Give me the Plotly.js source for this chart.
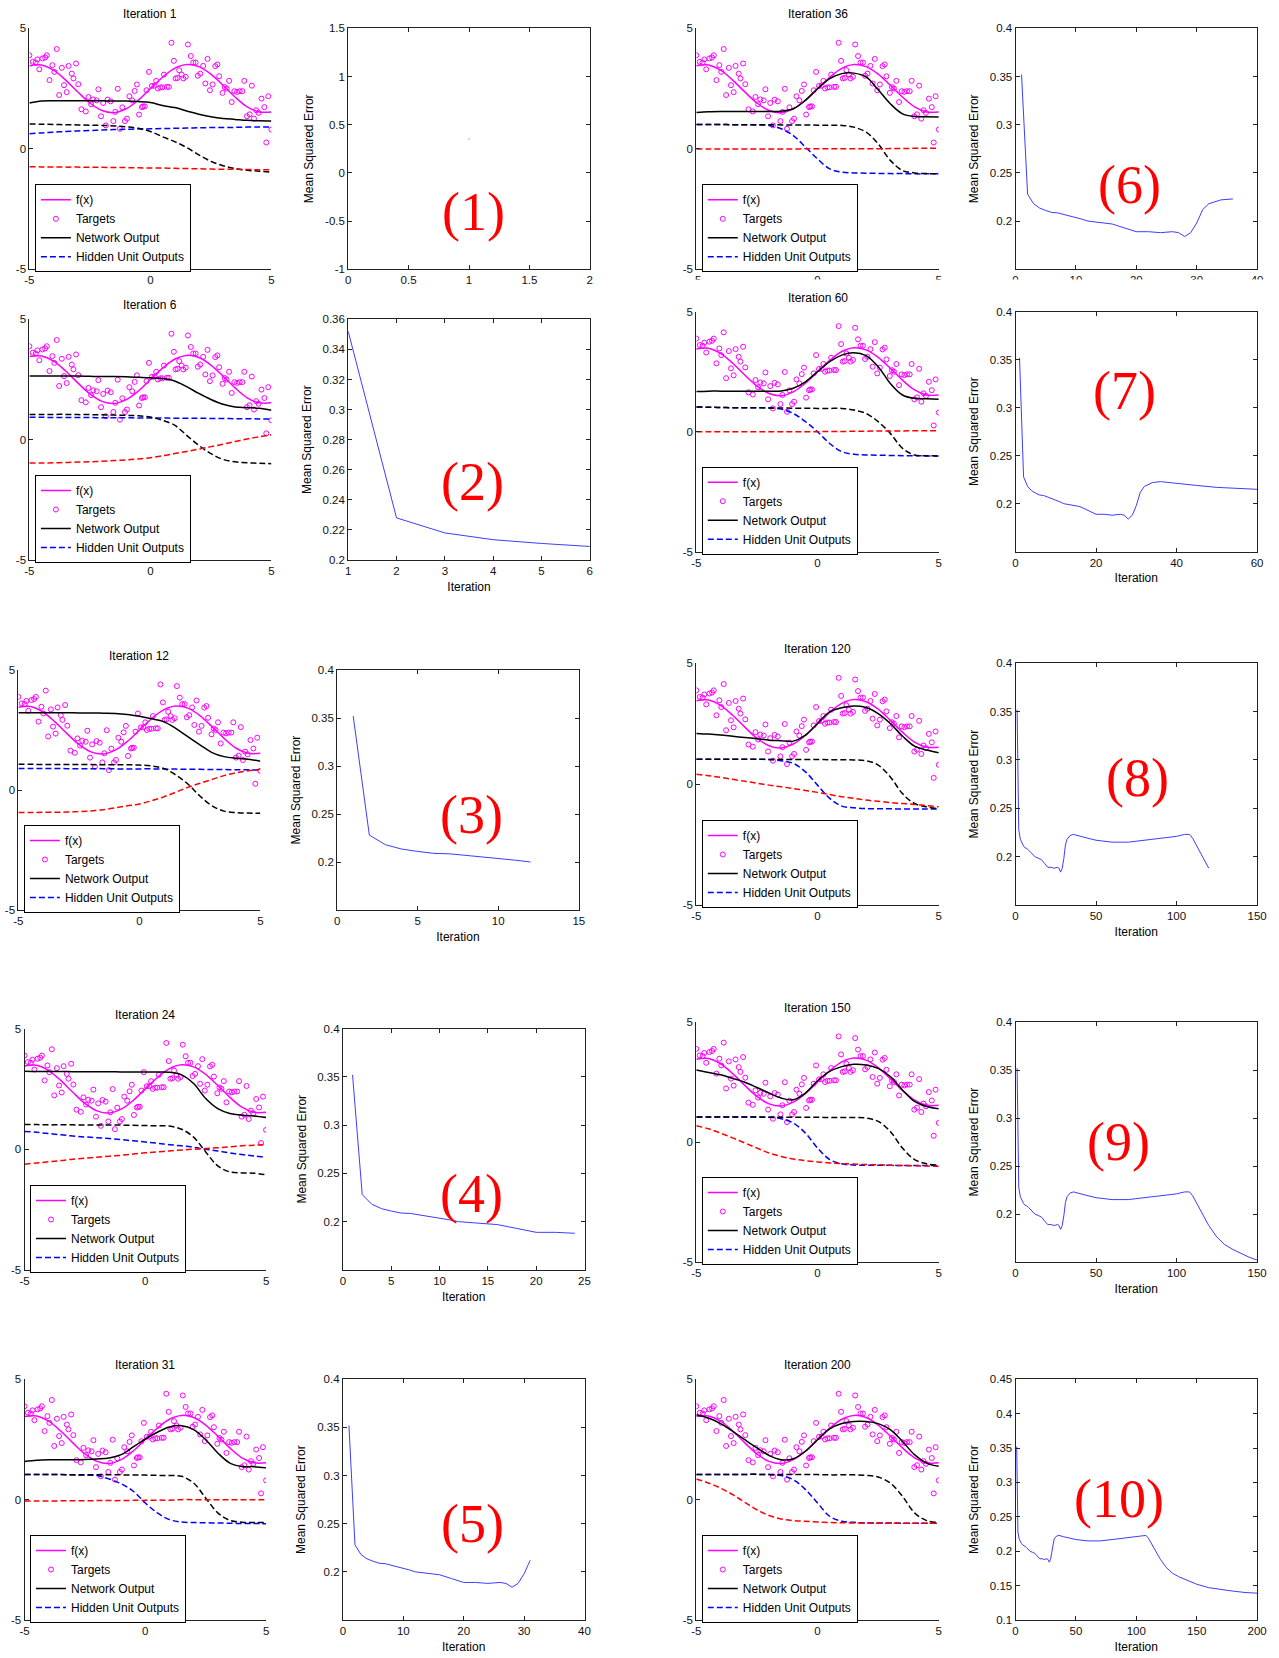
<!DOCTYPE html>
<html>
<head>
<meta charset="utf-8">
<script src="https://cdn.plot.ly/plotly-3.0.1.min.js"></script>
<style>html,body{margin:0;padding:0;background:#fff}#chart{width:1279px;height:1658px}</style>
</head>
<body>
<div id="chart"></div>
<script>
// ---------------- DATA ----------------
const xGrid = [-5,-4.5,-4,-3.5,-3,-2.5,-2,-1.5,-1,-0.5,0,0.5,1,1.5,2,2.5,3,3.5,4,4.5,5];
const fValues = [3.45,3.48,3.26,2.85,2.36,1.9,1.59,1.5,1.66,2.02,2.5,2.97,3.34,3.5,3.41,3.1,2.64,2.15,1.74,1.53,1.53];

const targetX = [-5.0,-4.86,-4.74,-4.67,-4.59,-4.46,-4.35,-4.28,-4.17,-4.05,-3.97,-3.87,-3.77,-3.66,-3.57,-3.46,-3.38,-3.25,-3.18,-3.07,-2.98,-2.85,-2.67,-2.56,-2.45,-2.36,-2.22,-2.15,-2.04,-1.95,-1.84,-1.77,-1.64,-1.53,-1.45,-1.35,-1.26,-1.16,-1.05,-0.97,-0.87,-0.75,-0.65,-0.56,-0.47,-0.35,-0.3,-0.23,-0.16,-0.06,0.06,0.17,0.24,0.31,0.41,0.5,0.56,0.68,0.76,0.87,0.97,1.04,1.12,1.19,1.29,1.36,1.46,1.55,1.67,1.77,1.87,1.96,2.06,2.18,2.27,2.36,2.46,2.57,2.68,2.77,2.84,2.98,3.07,3.15,3.25,3.36,3.47,3.58,3.69,3.8,3.88,3.99,4.1,4.19,4.28,4.37,4.47,4.59,4.71,4.79,4.87,5.0];
const targetY = [3.88,3.61,3.58,3.71,3.3,3.75,3.79,3.88,2.85,3.47,3.19,4.14,2.23,3.36,2.64,2.35,3.44,3.12,2.92,3.54,2.68,1.64,1.55,2.15,1.85,2.05,2.01,2.47,1.35,1.9,0.97,2.04,1.97,1.15,1.53,2.49,0.83,1.72,1.15,1.25,2.18,2.01,2.4,2.67,1.42,1.73,1.76,1.76,2.43,3.19,2.61,2.62,2.82,2.5,2.55,2.55,3.08,2.57,2.57,4.4,3.65,2.92,2.94,3.26,3.08,2.92,2.99,4.33,3.85,3.58,3.58,3.03,3.12,3.44,2.71,3.73,2.43,2.67,3.43,3.5,3.01,2.32,2.56,2.5,2.82,1.94,2.39,2.36,2.39,2.39,2.82,1.35,1.43,2.62,1.25,1.6,1.49,2.08,1.73,0.26,2.18,0.8];

const iterationsShown = [1, 6, 12, 24, 31, 36, 60, 120, 150, 200];
const panelLabels = ['(1)','(2)','(3)','(4)','(5)','(6)','(7)','(8)','(9)','(10)'];

// Network output and hidden unit outputs (black, blue, red) for each iteration, on xGrid
const net_it1   = [1.9,1.98,1.99,1.99,1.99,1.99,1.99,1.98,1.98,1.96,1.92,1.8,1.71,1.57,1.43,1.33,1.26,1.22,1.18,1.16,1.15];
const black_it1 = [1.03,1.02,1.01,1.0,0.99,0.98,0.97,0.95,0.91,0.85,0.72,0.5,0.3,0.05,-0.25,-0.52,-0.7,-0.82,-0.89,-0.93,-0.97];
const blue_it1  = [0.62,0.66,0.69,0.72,0.74,0.76,0.78,0.8,0.81,0.82,0.83,0.84,0.85,0.86,0.87,0.88,0.88,0.89,0.9,0.9,0.91];
const red_it1   = [-0.74,-0.75,-0.75,-0.76,-0.76,-0.77,-0.77,-0.78,-0.78,-0.79,-0.8,-0.8,-0.81,-0.82,-0.83,-0.84,-0.85,-0.85,-0.86,-0.87,-0.87];

const net_it6   = [2.64,2.64,2.64,2.64,2.64,2.63,2.62,2.62,2.61,2.59,2.57,2.54,2.44,2.2,1.92,1.67,1.47,1.36,1.33,1.3,1.22];
const black_it6 = [1.05,1.05,1.05,1.05,1.04,1.04,1.03,1.02,1.01,0.99,0.94,0.8,0.6,0.18,-0.24,-0.58,-0.82,-0.92,-0.96,-0.98,-1.0];
const blue_it6  = [0.93,0.93,0.92,0.92,0.92,0.92,0.91,0.91,0.91,0.9,0.9,0.9,0.89,0.89,0.89,0.88,0.88,0.87,0.87,0.86,0.86];
const red_it6   = [-0.97,-0.97,-0.96,-0.95,-0.93,-0.92,-0.9,-0.87,-0.84,-0.8,-0.75,-0.67,-0.58,-0.49,-0.39,-0.29,-0.19,-0.08,0.03,0.12,0.2];

const net_it12   = [3.22,3.22,3.22,3.22,3.22,3.21,3.21,3.2,3.19,3.15,3.07,2.97,2.85,2.57,2.22,1.88,1.56,1.39,1.32,1.28,1.2];
const black_it12 = [1.07,1.07,1.06,1.06,1.06,1.06,1.06,1.05,1.05,1.05,1.04,1.0,0.9,0.63,0.25,-0.25,-0.66,-0.88,-0.94,-0.96,-0.97];
const blue_it12  = [0.9,0.9,0.9,0.9,0.89,0.89,0.89,0.89,0.88,0.88,0.88,0.88,0.87,0.87,0.86,0.86,0.85,0.85,0.84,0.84,0.83];
const red_it12   = [-0.94,-0.94,-0.93,-0.93,-0.92,-0.9,-0.87,-0.82,-0.74,-0.66,-0.58,-0.45,-0.29,-0.09,0.11,0.28,0.44,0.6,0.72,0.8,0.86];

const net_it24   = [3.23,3.22,3.22,3.22,3.21,3.21,3.21,3.21,3.2,3.2,3.2,3.2,3.19,3.08,2.72,2.1,1.68,1.48,1.41,1.38,1.31];
const black_it24 = [1.02,1.02,1.01,1.01,1.01,1.0,1.0,1.0,1.0,0.99,0.98,0.97,0.96,0.83,0.5,-0.11,-0.69,-0.94,-0.98,-0.99,-1.06];
const blue_it24  = [0.74,0.7,0.65,0.6,0.55,0.51,0.48,0.44,0.4,0.35,0.3,0.25,0.19,0.14,0.08,0.0,-0.07,-0.15,-0.22,-0.28,-0.34];
const red_it24   = [-0.62,-0.57,-0.52,-0.47,-0.41,-0.37,-0.33,-0.29,-0.25,-0.2,-0.15,-0.11,-0.07,-0.03,0.0,0.03,0.06,0.1,0.14,0.17,0.19];

const net_it31   = [1.59,1.64,1.66,1.66,1.66,1.67,1.69,1.73,1.87,2.19,2.52,2.8,3.02,3.07,2.91,2.49,1.94,1.52,1.38,1.37,1.32];
const black_it31 = [1.04,1.04,1.04,1.04,1.03,1.03,1.03,1.03,1.03,1.02,1.02,1.01,1.0,0.97,0.69,0.07,-0.55,-0.86,-0.94,-0.95,-0.95];
const blue_it31  = [1.04,1.04,1.04,1.04,1.03,1.02,1.0,0.86,0.66,0.35,-0.14,-0.55,-0.83,-0.93,-0.95,-0.96,-0.97,-0.98,-0.99,-0.99,-1.0];
const red_it31   = [-0.06,-0.06,-0.06,-0.05,-0.05,-0.05,-0.04,-0.04,-0.04,-0.03,-0.03,-0.02,-0.02,0.0,0.0,0.0,0.0,0.0,0.0,0.0,0.0];

const net_it36   = [1.51,1.54,1.55,1.55,1.55,1.55,1.55,1.56,1.66,2.01,2.49,2.91,3.12,3.14,2.98,2.45,1.87,1.45,1.34,1.33,1.32];
const black_it36 = [1.01,1.01,1.01,1.0,1.0,1.0,1.0,0.99,0.99,0.99,0.98,0.98,0.97,0.9,0.69,0.21,-0.48,-0.9,-1.0,-1.03,-1.04];
const blue_it36  = [1.01,1.01,1.01,1.0,1.0,0.99,0.97,0.83,0.55,0.07,-0.42,-0.83,-0.97,-1.0,-1.01,-1.02,-1.03,-1.03,-1.04,-1.04,-1.04];
const red_it36   = [-0.01,-0.01,-0.01,-0.01,-0.01,-0.01,-0.01,-0.01,-0.01,0.0,0.0,0.0,0.0,0.0,0.0,0.0,0.01,0.01,0.02,0.02,0.03];

const net_it60   = [1.67,1.69,1.69,1.69,1.69,1.69,1.69,1.7,1.81,2.08,2.5,2.92,3.19,3.29,3.17,2.71,2.01,1.53,1.39,1.37,1.35];
const black_it60 = [1.03,1.02,1.01,1.0,1.0,1.0,0.99,0.99,0.98,0.98,0.97,0.97,0.97,0.9,0.76,0.42,-0.07,-0.69,-0.97,-1.0,-1.01];
const blue_it60  = [1.03,1.02,1.01,1.0,1.0,1.0,0.99,0.94,0.76,0.42,0.0,-0.49,-0.83,-0.94,-0.97,-0.98,-0.99,-1.0,-1.0,-1.01,-1.01];
const red_it60   = [0.0,0.0,0.0,0.0,0.0,0.0,0.0,0.0,0.0,0.0,0.0,0.01,0.01,0.02,0.02,0.03,0.03,0.03,0.04,0.04,0.04];

const net_it120   = [2.1,2.07,2.03,1.98,1.93,1.88,1.82,1.8,1.78,2.03,2.51,2.99,3.16,3.23,3.17,2.92,2.51,1.99,1.57,1.41,1.3];
const black_it120 = [1.03,1.03,1.03,1.03,1.03,1.03,1.02,1.02,1.02,1.02,1.02,1.01,1.01,1.0,0.97,0.79,0.3,-0.39,-0.8,-0.94,-1.01];
const blue_it120  = [1.03,1.03,1.03,1.03,1.03,1.03,1.02,0.97,0.86,0.51,-0.04,-0.59,-0.91,-0.98,-1.01,-1.02,-1.02,-1.03,-1.03,-1.03,-1.03];
const red_it120   = [0.41,0.35,0.28,0.2,0.12,0.04,-0.04,-0.11,-0.18,-0.26,-0.34,-0.43,-0.52,-0.59,-0.66,-0.71,-0.76,-0.8,-0.84,-0.89,-0.94];

const net_it150   = [3.0,2.9,2.8,2.65,2.49,2.27,2.04,1.83,1.76,2.04,2.55,2.94,3.14,3.24,3.21,3.07,2.73,2.17,1.69,1.48,1.39];
const black_it150 = [1.04,1.04,1.04,1.04,1.04,1.04,1.03,1.03,1.03,1.03,1.03,1.02,1.02,1.02,1.0,0.86,0.44,-0.25,-0.73,-0.91,-0.97];
const blue_it150  = [1.04,1.04,1.04,1.04,1.04,1.04,1.03,0.97,0.79,0.37,-0.25,-0.73,-0.91,-0.96,-0.97,-0.97,-0.97,-0.98,-0.98,-0.98,-0.98];
const red_it150   = [0.68,0.55,0.37,0.17,-0.04,-0.25,-0.46,-0.6,-0.71,-0.78,-0.83,-0.87,-0.9,-0.92,-0.94,-0.95,-0.97,-0.98,-0.99,-1.0,-1.01];

const net_it200   = [3.53,3.39,3.16,2.84,2.49,2.15,1.84,1.66,1.7,2.01,2.49,2.94,3.16,3.25,3.25,3.16,2.91,2.42,1.87,1.52,1.39];
const black_it200 = [1.05,1.05,1.05,1.05,1.05,1.05,1.04,1.04,1.04,1.04,1.04,1.03,1.03,1.03,1.01,0.94,0.69,0.14,-0.55,-0.87,-0.94];
const blue_it200  = [1.05,1.05,1.05,1.05,1.05,1.05,1.04,1.0,0.83,0.42,-0.14,-0.69,-0.9,-0.94,-0.97,-0.97,-0.97,-0.98,-0.98,-0.98,-0.98];
const red_it200   = [0.86,0.69,0.48,0.21,-0.11,-0.42,-0.66,-0.8,-0.87,-0.9,-0.93,-0.95,-0.96,-0.97,-0.97,-0.98,-0.98,-0.98,-0.98,-0.98,-0.98];

// Mean squared error during training
const mseIter  = [1,2,3,4,5,6,7,8,9,10,11,12,14,16,18,20,22,24,26,27,28,29,30,31,32,34,36,40,45,50,60,70,80,90,100,105,108,110,115,120,125,130,135,140,145,150,160,170,180,190,200];
const mseValue = [0.352,0.228,0.218,0.2135,0.211,0.209,0.2085,0.207,0.2055,0.204,0.202,0.2,0.1985,0.197,0.193,0.189,0.189,0.188,0.189,0.188,0.184,0.188,0.198,0.212,0.218,0.222,0.223,0.221,0.219,0.217,0.215,0.215,0.217,0.219,0.221,0.223,0.223,0.219,0.204,0.188,0.176,0.168,0.163,0.159,0.155,0.152,0.147,0.144,0.142,0.14,0.139];

// tick labels
const fxTicks = [-5, 0, 5];
const fxTickText = ['-5', '0', '5'];
const mseYTicks1 = [-1,-0.5,0,0.5,1,1.5];
const mseYTickText1 = ['-1','-0.5','0','0.5','1','1.5'];
const mseYTicks2 = [0.2,0.22,0.24,0.26,0.28,0.3,0.32,0.34,0.36];
const mseYTicksStd = [0.2,0.25,0.3,0.35,0.4];
const mseYTicks10 = [0.1,0.15,0.2,0.25,0.3,0.35,0.4,0.45];
const mseXTicks = [[0,0.5,1,1.5,2],[1,2,3,4,5,6],[0,5,10,15],[0,5,10,15,20,25],[0,10,20,30,40],[0,10,20,30,40],[0,20,40,60],[0,50,100,150],[0,50,100,150],[0,50,100,150,200]];

const netList   = [net_it1,net_it6,net_it12,net_it24,net_it31,net_it36,net_it60,net_it120,net_it150,net_it200];
const blackList = [black_it1,black_it6,black_it12,black_it24,black_it31,black_it36,black_it60,black_it120,black_it150,black_it200];
const blueList  = [blue_it1,blue_it6,blue_it12,blue_it24,blue_it31,blue_it36,blue_it60,blue_it120,blue_it150,blue_it200];
const redList   = [red_it1,red_it6,red_it12,red_it24,red_it31,red_it36,red_it60,red_it120,red_it150,red_it200];

// ---------------- GEOMETRY (pixels: left, right, top, bottom) ----------------
const W = 1279, H = 1658;
const fxBox = [
  [29.4,271.4,28.3,269.3],[29.4,271.4,319.3,560],[18.4,260.4,670,910],[24.5,266.1,1028.5,1270],[24.5,266.1,1379.3,1620],
  [696.3,938.8,28.3,269.3],[696.3,938.8,311.7,551.7],[696.3,938.8,663.3,905],[696.3,938.8,1022,1262],[696.3,938.8,1379.3,1620]
];
const mseBox = [
  [348.2,589.8,28.3,269.3],[348.2,589.8,319.3,560],[337.1,578.8,670,910],[342.9,584.5,1028.5,1270],[342.9,584.5,1379.3,1620],
  [1015.5,1257.1,28.3,269.3],[1015.5,1257.1,311.7,551.7],[1015.5,1257.1,663.3,905],[1015.5,1257.1,1022,1262],[1015.5,1257.1,1379.3,1620]
];
const mseXRange = [[0,2],[1,6],[0,15],[0,25],[0,40],[0,40],[0,60],[0,150],[0,150],[0,200]];
const mseYRange = [[-1,1.5],[0.2,0.36],[0.15,0.4],[0.15,0.4],[0.15,0.4],[0.15,0.4],[0.15,0.4],[0.15,0.4],[0.15,0.4],[0.1,0.45]];
const labelPos = [[473.5,211.5],[472.7,482],[471.4,814.5],[471.4,1194],[472.7,1524],[1129,185.5],[1124.5,390.5],[1137,778],[1118.8,1142],[1118.8,1499]];

const px = p => p / W;
const py = p => 1 - p / H;
const FONT = 'Liberation Sans, Arial, Helvetica, sans-serif';
const dash = '6px,3px';

const traces = [];
const layout = {
  width: W, height: H,
  margin: {l:0, r:0, t:0, b:0},
  paper_bgcolor: '#fff', plot_bgcolor: '#fff',
  font: {family: FONT, size: 11.5, color: '#000'},
  showlegend: true,
  annotations: [], shapes: []
};

function axName(n, letter) { return letter + 'axis' + (n === 1 ? '' : n); }
function axId(n, letter) { return letter + (n === 1 ? '' : n); }

const baseAxis = {
  showgrid: false, zeroline: false, showline: true, linecolor: '#222', linewidth: 1,
  ticks: 'inside', ticklen: 4, tickcolor: '#222', tickfont: {family: FONT, size: 11.5, color: '#111'},
  fixedrange: true
};

for (let i = 0; i < 10; i++) {
  const n = i + 1;           // fx panel axes
  const m = i + 11;          // mse panel axes
  const xa = axId(n, 'x'), ya = axId(n, 'y');
  const legendId = 'legend' + (n === 1 ? '' : n);
  const b = fxBox[i];

  traces.push({x: xGrid, y: fValues, type: 'scatter', mode: 'lines', name: 'f(x)',
    line: {color: '#ff00ff', width: 1.5, shape: 'spline'}, xaxis: xa, yaxis: ya, legend: legendId});
  traces.push({x: targetX, y: targetY, type: 'scatter', mode: 'markers', name: 'Targets',
    marker: {symbol: 'circle-open', size: 5, color: '#ff00ff', line: {width: 1, color: '#ff00ff'}}, xaxis: xa, yaxis: ya, legend: legendId});
  traces.push({x: xGrid, y: netList[i], type: 'scatter', mode: 'lines', name: 'Network Output',
    line: {color: '#000', width: 1.5, shape: 'spline'}, xaxis: xa, yaxis: ya, legend: legendId});
  traces.push({x: xGrid, y: blueList[i], type: 'scatter', mode: 'lines', name: 'Hidden Unit Outputs',
    line: {color: '#0000ff', width: 1.5, dash: dash, shape: 'spline'}, xaxis: xa, yaxis: ya, legend: legendId});
  traces.push({x: xGrid, y: blackList[i], type: 'scatter', mode: 'lines', name: 'Hidden Unit 2', showlegend: false,
    line: {color: '#000', width: 1.5, dash: dash, shape: 'spline'}, xaxis: xa, yaxis: ya, legend: legendId});
  traces.push({x: xGrid, y: redList[i], type: 'scatter', mode: 'lines', name: 'Hidden Unit 3', showlegend: false,
    line: {color: '#ff0000', width: 1.5, dash: dash, shape: 'spline'}, xaxis: xa, yaxis: ya, legend: legendId});

  layout[axName(n, 'x')] = Object.assign({}, baseAxis, {domain: [px(b[0]), px(b[1])], range: [-5, 5], anchor: ya,
    tickvals: fxTicks, ticktext: fxTickText, mirror: false});
  layout[axName(n, 'y')] = Object.assign({}, baseAxis, {domain: [py(b[3]), py(b[2])], range: [-5, 5], anchor: xa,
    tickvals: fxTicks, ticktext: fxTickText, mirror: false});

  layout[legendId] = {x: px(b[0] + 5.5), y: py(b[3] - 41), xanchor: 'left', yanchor: 'middle',
    bgcolor: '#fff', bordercolor: '#000', borderwidth: 1, font: {family: FONT, size: 12, color: '#000'},
    itemwidth: 30, tracegroupgap: 0};

  layout.annotations.push({text: 'Iteration ' + iterationsShown[i], xref: 'paper', yref: 'paper',
    x: px((b[0] + b[1]) / 2), y: py(b[2] - 14), xanchor: 'center', yanchor: 'middle', showarrow: false,
    font: {family: FONT, size: 12, color: '#000'}});

  // MSE panel
  const mb = mseBox[i];
  const mx = axId(m, 'x'), my = axId(m, 'y');
  const N = iterationsShown[i];
  const xs = [], ys = [];
  for (let k = 0; k < mseIter.length; k++) { if (mseIter[k] <= N) { xs.push(mseIter[k]); ys.push(mseValue[k]); } }
  traces.push({x: xs, y: ys, type: 'scatter', mode: xs.length > 1 ? 'lines' : 'markers', name: 'MSE',
    showlegend: false, line: {color: '#3d3dff', width: 1}, marker: {color: '#8c8cff', size: 1.5},
    xaxis: mx, yaxis: my});

  let yt, ytt;
  if (i === 0) { yt = mseYTicks1; ytt = mseYTickText1; }
  else if (i === 1) { yt = mseYTicks2; ytt = mseYTicks2.map(String); }
  else if (i === 9) { yt = mseYTicks10; ytt = mseYTicks10.map(String); }
  else { yt = mseYTicksStd; ytt = mseYTicksStd.map(String); }

  const xaxisCfg = Object.assign({}, baseAxis, {domain: [px(mb[0]), px(mb[1])], range: mseXRange[i], anchor: my,
    tickvals: mseXTicks[i], ticktext: mseXTicks[i].map(String), mirror: 'allticks'});
  if (i !== 0 && i !== 5) xaxisCfg.title = {text: 'Iteration', font: {family: FONT, size: 12, color: '#000'}, standoff: 6};
  layout[axName(m, 'x')] = xaxisCfg;
  layout[axName(m, 'y')] = Object.assign({}, baseAxis, {domain: [py(mb[3]), py(mb[2])], range: mseYRange[i], anchor: mx,
    tickvals: yt, ticktext: ytt, mirror: 'allticks',
    title: {text: 'Mean Squared Error', font: {family: FONT, size: 12, color: '#000'}, standoff: 8}});

  layout.annotations.push({text: panelLabels[i], xref: 'paper', yref: 'paper',
    x: px(labelPos[i][0]), y: py(labelPos[i][1]), xanchor: 'center', yanchor: 'middle', showarrow: false,
    font: {family: 'Liberation Serif, Times New Roman, serif', size: 54, color: '#ff0000'}});
}

// white band clipping the bottom tick labels of the top-right pair (as in the source image)
layout.shapes.push({type: 'rect', xref: 'paper', yref: 'paper', x0: px(640), x1: 1, y0: py(293), y1: py(279.5),
  fillcolor: '#fff', line: {width: 0}, layer: 'above'});

Plotly.newPlot('chart', traces, layout, {staticPlot: true, displayModeBar: false});
</script>
</body>
</html>
